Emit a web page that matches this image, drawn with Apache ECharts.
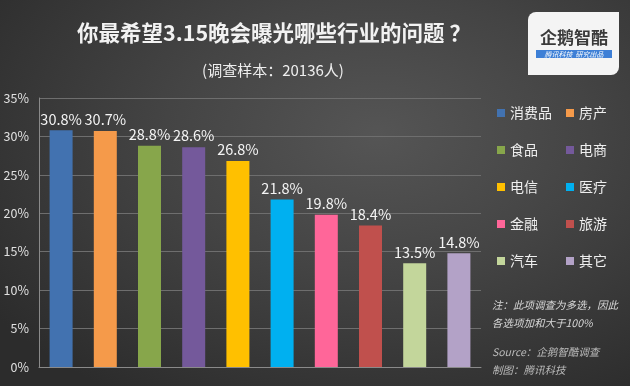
<!DOCTYPE html>
<html>
<head>
<meta charset="utf-8">
<script src="https://cdn.jsdelivr.net/npm/echarts@6/dist/echarts.min.js"></script>
<style>
html,body{margin:0;padding:0;}
body{width:630px;height:386px;overflow:hidden;background:radial-gradient(ellipse 75% 80% at 60% 35%, #555555 0%, #444444 45%, #2c2c2c 100%);}
#c{width:630px;height:386px;}
</style>
</head>
<body>
<div id="c"></div>
<script>
const categories = ['消费品','房产','食品','电商','电信','医疗','金融','旅游','汽车','其它'];
const values = [30.8, 30.7, 28.8, 28.6, 26.8, 21.8, 19.8, 18.4, 13.5, 14.8];
const colors = ['#4272b0','#f59a4a','#87a64b','#74599b','#ffc000','#00b0f0','#ff6699','#c0504d','#c3d69b','#b3a2c7'];
const yTicks = {min:0, max:35, interval:5};
const titleText = '你最希望3.15晚会曝光哪些行业的问题 ？';
const subText = '(调查样本：20136人)';
const noteLines = ['注：此项调查为多选，因此','各选项加和大于100%','Source：企鹅智酷调查','制图：腾讯科技'];

const chart = echarts.init(document.getElementById('c'), null, {renderer:'canvas'});
const font = '"Noto Sans CJK SC","Open Sans",sans-serif';

const series = categories.map((name, i) => ({
  name: name,
  type: 'bar',
  stack: 'all',
  barWidth: 23,
  data: values.map((v, j) => j === i ? v : '-'),
  itemStyle: {color: colors[i]},
  label: {
    show: true, position: 'top', distance: 4,
    color: '#f4f4f4', fontSize: 14.5, fontFamily: font,
    formatter: p => p.value.toFixed(1) + '%'
  }
}));

const legendCommon = {
  orient: 'vertical', top: 101, itemGap: 23, itemWidth: 8, itemHeight: 8,
  icon: 'rect', textStyle: {color: '#eeeeee', fontSize: 14, fontFamily: font}
};

chart.setOption({
  backgroundColor: 'transparent',
  animation: false,
  grid: {left: 39, right: 149, top: 98, bottom: 19, containLabel: false},
  legend: [
    Object.assign({}, legendCommon, {left: 492, data: categories.filter((_, i) => i % 2 === 0)}),
    Object.assign({}, legendCommon, {left: 561, data: categories.filter((_, i) => i % 2 === 1)})
  ],
  xAxis: {
    type: 'category', data: categories,
    axisLine: {show: true, lineStyle: {color: '#8a8a8a', width: 1}},
    axisTick: {show: false}, axisLabel: {show: false}
  },
  yAxis: {
    type: 'value', min: yTicks.min, max: yTicks.max, interval: yTicks.interval,
    axisLine: {show: true, lineStyle: {color: '#8a8a8a'}},
    axisTick: {show: false},
    axisLabel: {color: '#e0e0e0', fontSize: 12.5, fontFamily: font, formatter: '{value}%', margin: 10},
    splitLine: {lineStyle: {color: '#6e6e6e', width: 1}}
  },
  series: series,
  graphic: [
    {type: 'text', x: 274, y: 33, style: {text: titleText, fill: '#f2f2f2', font: 'bold 21.5px ' + font, textAlign: 'center', textVerticalAlign: 'middle'}},
    {type: 'text', x: 273, y: 70, style: {text: subText, fill: '#eeeeee', font: '15px ' + font, textAlign: 'center', textVerticalAlign: 'middle'}},
    {type: 'rect', shape: {x: 528, y: 12, width: 91, height: 63, r: [8, 0, 8, 0]}, style: {fill: '#f4f4f4'}},
    {type: 'text', x: 574, y: 38, style: {text: '企鹅智酷', fill: '#3a3a3a', font: 'bold 17px ' + font, textAlign: 'center', textVerticalAlign: 'middle'}},
    {type: 'rect', shape: {x: 536, y: 50, width: 76, height: 8}, style: {fill: '#3d7fd6'}},
    {type: 'text', x: 574, y: 54, style: {text: '腾讯科技  研究出品', fill: '#ffffff', font: 'italic 7px ' + font, textAlign: 'center', textVerticalAlign: 'middle'}},
    {type: 'text', x: 492, y: 305, style: {text: noteLines[0], fill: '#d8d8d8', font: 'italic 10.5px ' + font, textVerticalAlign: 'middle'}},
    {type: 'text', x: 492, y: 323, style: {text: noteLines[1], fill: '#d8d8d8', font: 'italic 10.5px ' + font, textVerticalAlign: 'middle'}},
    {type: 'text', x: 492, y: 352, style: {text: noteLines[2], fill: '#bbbbbb', font: 'italic 10.5px ' + font, textVerticalAlign: 'middle'}},
    {type: 'text', x: 492, y: 370, style: {text: noteLines[3], fill: '#bbbbbb', font: 'italic 10.5px ' + font, textVerticalAlign: 'middle'}}
  ]
});
</script>
</body>
</html>
